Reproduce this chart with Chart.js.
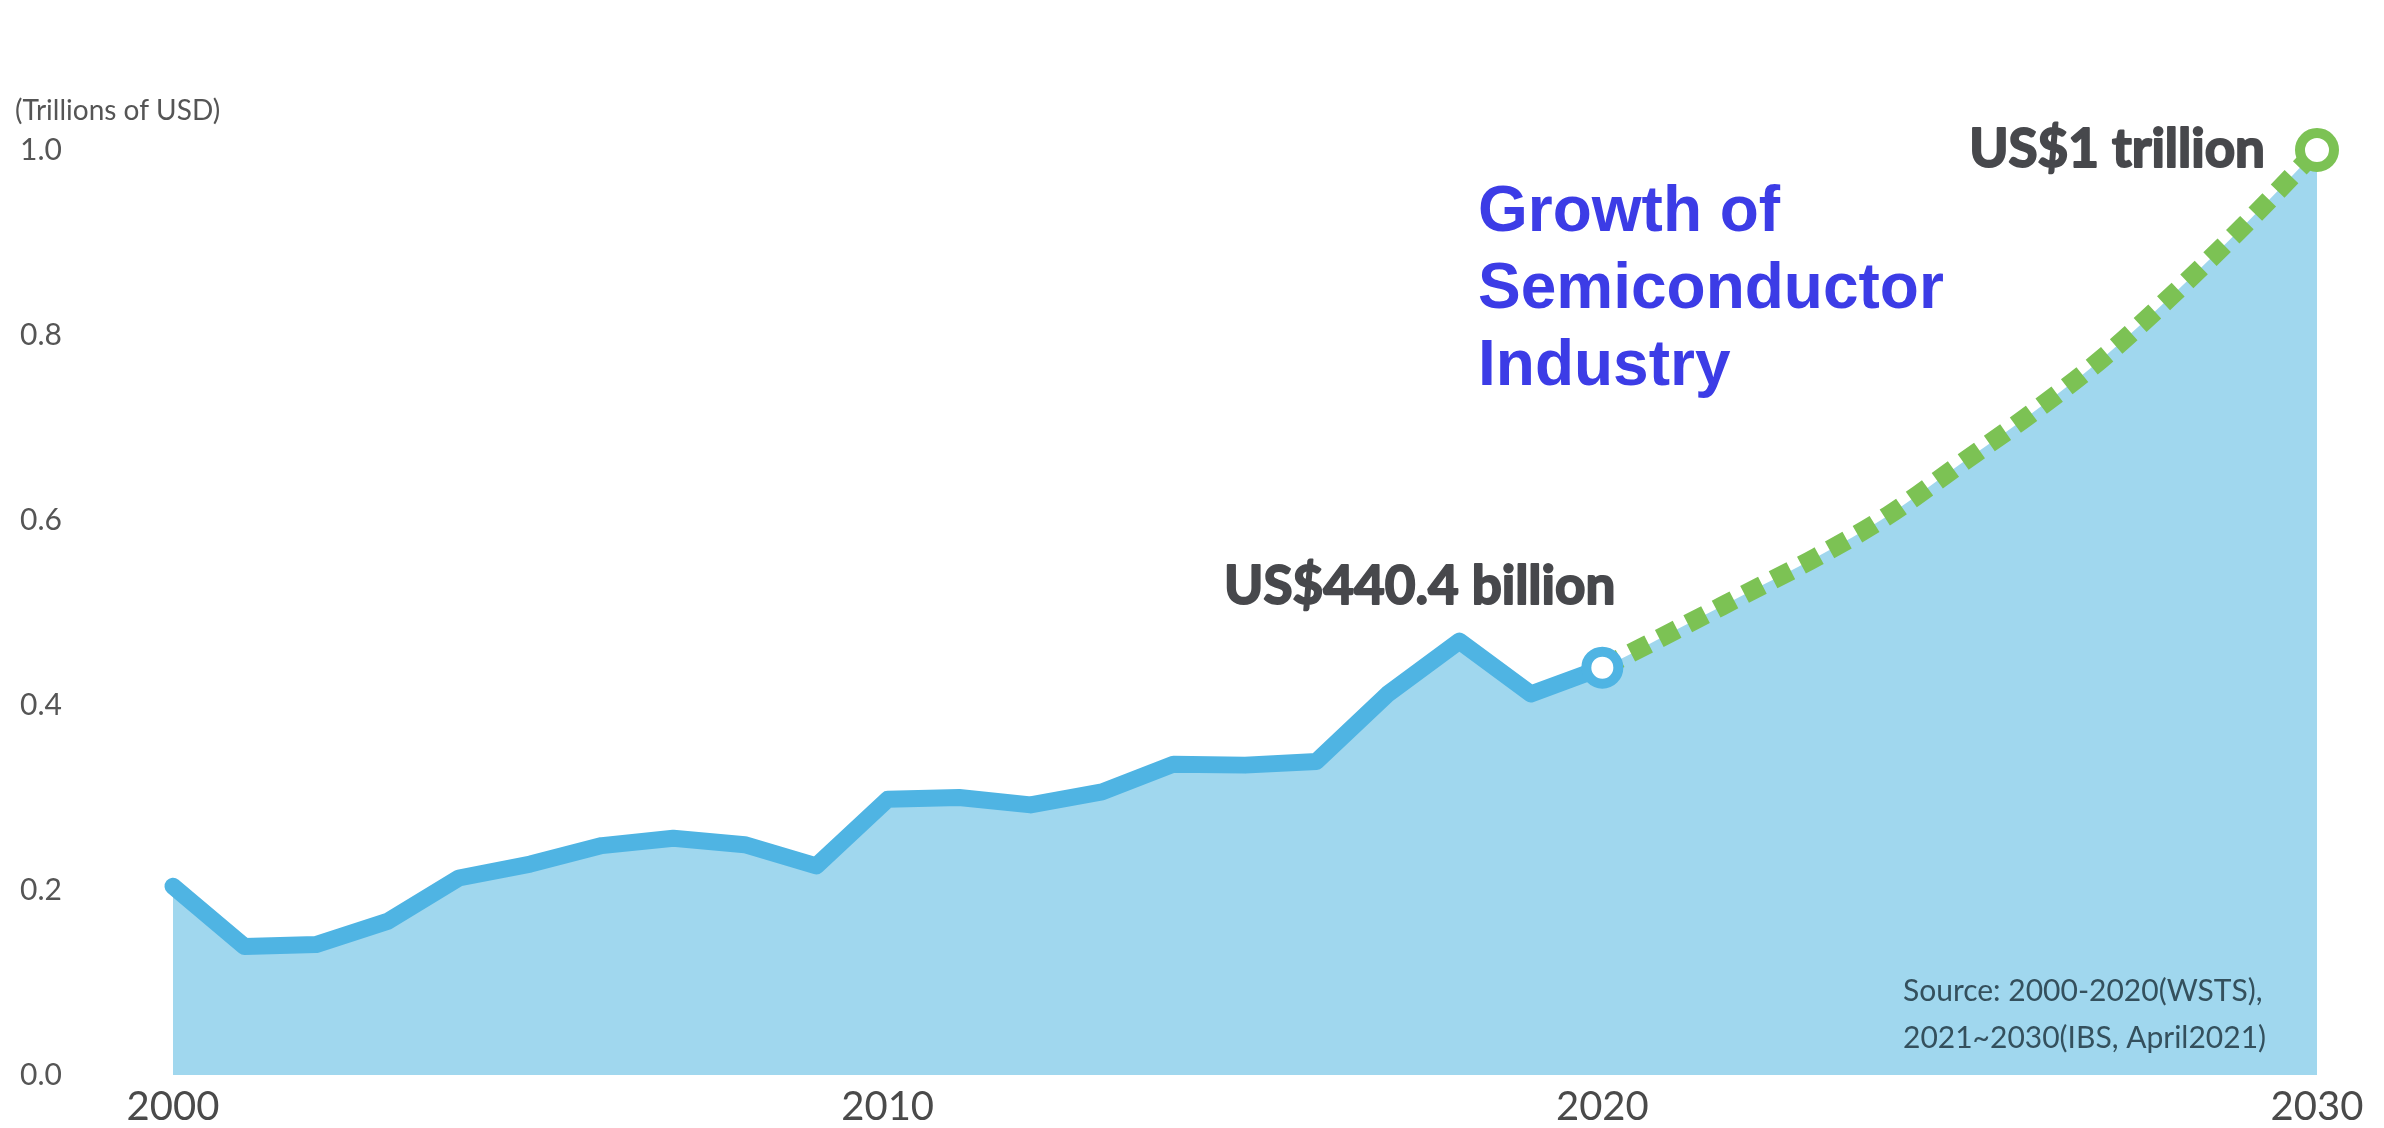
<!DOCTYPE html>
<html lang="en">
<head>
<meta charset="UTF-8">
<title>Growth of Semiconductor Industry</title>
<script src="https://cdn.jsdelivr.net/npm/chart.js@4"></script>
<style>
  html, body { margin: 0; padding: 0; background: #ffffff; }
  #wrap { width: 2384px; height: 1128px; position: relative; }
</style>
</head>
<body>
<div id="wrap"><canvas id="salesChart"></canvas></div>
<script>
// Global semiconductor sales, trillions of USD
const years = [
    '2000', '2001', '2002', '2003', '2004', '2005', '2006', '2007', '2008', '2009',
    '2010', '2011', '2012', '2013', '2014', '2015', '2016', '2017', '2018', '2019',
    '2020', '2021', '2022', '2023', '2024', '2025', '2026', '2027', '2028', '2029', '2030'
];
// 2000-2020 actuals (WSTS)
const actualSales = [
    0.204, 0.139, 0.141, 0.166, 0.213, 0.228, 0.248, 0.256, 0.249, 0.226,
    0.298, 0.300, 0.292, 0.306, 0.336, 0.335, 0.339, 0.412, 0.469, 0.412, 0.4404
];
// 2020-2030 outlook (IBS)
const forecastSales = [0.4404, 0.48, 0.52, 0.56, 0.605, 0.66, 0.715, 0.775, 0.845, 0.92, 1.0];
const xTickLabels = ['2000', '2010', '2020', '2030'];
const yTickStep = 0.2;

const actualNote = 'US$440.4 billion';
const forecastNote = 'US$1 trillion';
const unitNote = '(Trillions of USD)';
const titleLines = ['Growth of', 'Semiconductor', 'Industry'];
const sourceLines = ['Source: 2000-2020(WSTS),', '2021~2030(IBS, April2021)'];

const BLUE_LINE = '#4fb4e3';
const BLUE_FILL = '#a0d7ee';
const GREEN = '#7cc254';

// pad both series out to the full 2000-2030 range
const forecastStart = actualSales.length - 1;
const actualData = years.map((y, i) => i < actualSales.length ? actualSales[i] : null);
const forecastData = years.map((y, i) => i >= forecastStart ? forecastSales[i - forecastStart] : null);
// one continuous area under both lines, so there is no seam at 2020
const areaData = years.map((y, i) => i < actualSales.length ? actualSales[i] : forecastSales[i - forecastStart]);

// callouts, title, unit and source text
const notesPlugin = {
    id: 'notes',
    afterDatasetsDraw(chart) {
        const ctx = chart.ctx;
        const lastActual = chart.getDatasetMeta(1).data[actualSales.length - 1];
        const lastForecast = chart.getDatasetMeta(2).data[years.length - 1];

        ctx.save();
        ctx.fillStyle = '#47484c';
        ctx.strokeStyle = '#47484c';
        ctx.lineWidth = 2;
        ctx.lineJoin = 'round';
        ctx.font = 'bold 53px Lato';
        ctx.textAlign = 'right';
        ctx.textBaseline = 'middle';
        [[actualNote, lastActual.x + 13, lastActual.y - 81],
         [forecastNote, lastForecast.x - 52, lastForecast.y]].forEach(([t, x, y]) => {
            ctx.fillText(t, x, y);
            ctx.strokeText(t, x, y);
        });

        ctx.textAlign = 'left';
        ctx.fillStyle = '#555555';
        ctx.font = '28px Lato';
        ctx.fillText(unitNote, 15, 111);

        ctx.fillStyle = '#3c3ce6';
        ctx.font = 'bold 64px "Liberation Sans", Arial, sans-serif';
        ctx.textBaseline = 'alphabetic';
        titleLines.forEach((line, i) => ctx.fillText(line, 1478, 231 + i * 77));

        ctx.fillStyle = '#34505d';
        ctx.font = '30px Lato';
        ctx.textBaseline = 'middle';
        sourceLines.forEach((line, i) => ctx.fillText(line, 1903, 991 + i * 47));
        ctx.restore();
    }
};

new Chart(document.getElementById('salesChart'), {
    type: 'line',
    data: {
        labels: years,
        datasets: [
            {
                label: 'Area',
                data: areaData,
                order: 2,
                borderWidth: 0,
                borderColor: 'rgba(0,0,0,0)',
                backgroundColor: BLUE_FILL,
                fill: 'origin',
                cubicInterpolationMode: 'monotone',
                pointRadius: 0,
                pointHoverRadius: 0
            },
            {
                label: 'Actual',
                data: actualData,
                order: 0,
                borderColor: BLUE_LINE,
                borderWidth: 17,
                borderCapStyle: 'round',
                borderJoinStyle: 'round',
                fill: false,
                tension: 0,
                clip: false,
                pointRadius: ctx => ctx.dataIndex === actualSales.length - 1 ? 16 : 0,
                pointBorderWidth: 10,
                pointBorderColor: BLUE_LINE,
                pointBackgroundColor: '#ffffff',
                pointHoverRadius: 0
            },
            {
                label: 'Forecast',
                data: forecastData,
                order: 1,
                borderColor: GREEN,
                borderWidth: 19,
                borderDash: [20, 12],
                borderCapStyle: 'butt',
                fill: false,
                cubicInterpolationMode: 'monotone',
                clip: false,
                pointRadius: ctx => ctx.dataIndex === years.length - 1 ? 17 : 0,
                pointBorderWidth: 10,
                pointBorderColor: GREEN,
                pointBackgroundColor: '#ffffff',
                pointHoverRadius: 0
            }
        ]
    },
    options: {
        responsive: true,
        maintainAspectRatio: false,
        animation: false,
        events: [],
        layout: { padding: { top: 39, right: 67, left: 20, bottom: 0 } },
        plugins: {
            legend: { display: false },
            tooltip: { enabled: false }
        },
        scales: {
            x: {
                grid: { display: false, drawTicks: false },
                border: { display: false },
                ticks: {
                    autoSkip: false,
                    maxRotation: 0,
                    padding: 8,
                    color: '#4a4a4a',
                    font: { family: 'Lato', size: 40 },
                    callback: (val, idx) => xTickLabels.includes(years[idx]) ? years[idx] : ''
                },
                afterFit: scale => { scale.height = 53; }
            },
            y: {
                min: 0,
                max: 1.12,
                grid: { display: false, drawTicks: false },
                border: { display: false },
                ticks: {
                    stepSize: yTickStep,
                    crossAlign: 'far',
                    color: '#555555',
                    font: { family: 'Lato', size: 30 },
                    callback: v => v.toFixed(1)
                },
                afterBuildTicks: scale => {
                    scale.ticks = scale.ticks.filter(t => t.value <= 1.0001);
                },
                afterFit: scale => { scale.width = 153; }
            }
        }
    },
    plugins: [notesPlugin]
});
</script>
</body>
</html>
